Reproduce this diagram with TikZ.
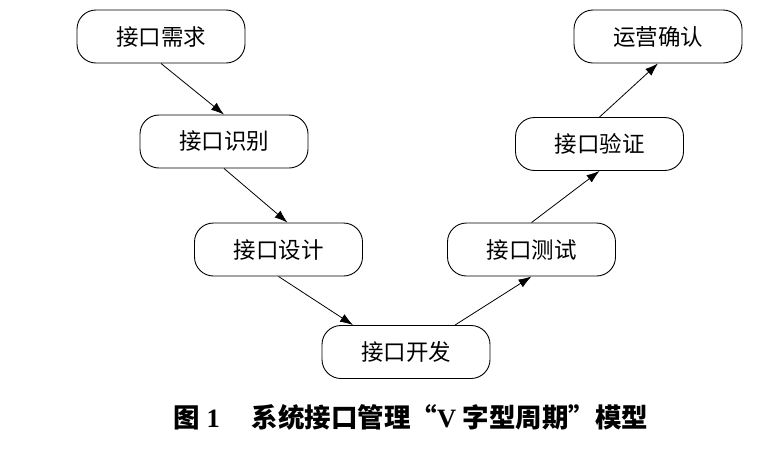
\documentclass[tikz,border=0pt]{standalone}
\usepackage{fontspec}
\setmainfont{Liberation Serif}
\newfontfamily\cjk{Noto Sans CJK SC}
\usetikzlibrary{positioning,arrows.meta}

\begin{document}
\begin{tikzpicture}[x=1pt,y=-1pt,
    stage/.style={draw,line width=0.9pt,rounded corners=19pt,minimum width=168pt,
      minimum height=53pt,inner sep=0pt,font=\cjk\fontsize{22.5}{22.5}\selectfont},
    flow/.style={-{Latex[length=13pt,width=9pt]},line width=0.8pt}]
  \useasboundingbox (0,0) rectangle (771,464);
  \node[stage] (xq) at (161,36.5) {接口需求};
  \node[stage] (sb) at (224,141.5) {接口识别};
  \node[stage] (sj) at (278.5,249.5) {接口设计};
  \node[stage] (kf) at (406,352) {接口开发};
  \node[stage] (cs) at (531.5,249.5) {接口测试};
  \node[stage] (yz) at (599.5,144) {接口验证};
  \node[stage] (qr) at (658,36.5) {运营确认};
  \draw[flow] (xq.south) -- (sb.north);
  \draw[flow] (sb.south) -- ([xshift=9pt]sj.north);
  \draw[flow] (sj.south) -- ([xshift=-53pt]kf.north);
  \draw[flow] ([xshift=49pt]kf.north) -- (cs.south);
  \draw[flow] (cs.north) -- (yz.south);
  \draw[flow] (yz.north) -- (qr.south);
  \node[font=\fontsize{26.5}{26.5}\selectfont\bfseries] (cap) at (411,417)
    {{\cjk 图}~1\hspace{1.2em}{\cjk 系统接口管理“}V~{\cjk 字型周期”模型}};
\end{tikzpicture}
\end{document}
